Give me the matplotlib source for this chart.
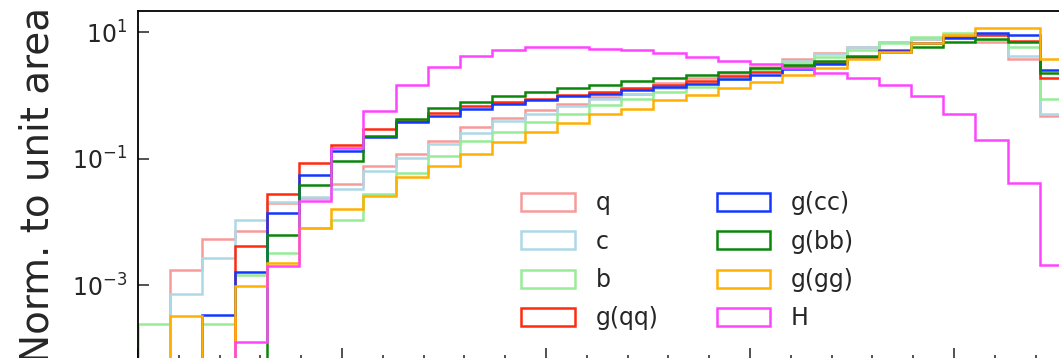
import numpy as np
import matplotlib
matplotlib.use("Agg")
import matplotlib.pyplot as plt

# 38 bins over 0-300, only the first 29 are filled here
edges = np.linspace(0, 300, 39)[:30]
centers = 0.5 * (edges[:-1] + edges[1:])

# log10 of the unit-area density per bin (None = empty bin)
q_log = [None, -2.76, -2.26, -2.14, -1.70, -1.62, -1.40, -1.12, -0.92, -0.72,
         -0.50, -0.36, -0.23, -0.13, -0.03, 0.03, 0.20, 0.27, 0.35, 0.45,
         0.57, 0.67, 0.76, 0.85, 0.885, 0.93, 0.85, 0.57, -0.33]
c_log = [None, -3.13, -2.56, -1.97, -1.69, -1.60, -1.47, -1.20, -0.99, -0.77,
         -0.60, -0.41, -0.30, -0.17, -0.06, 0.02, 0.12, 0.20, 0.30, 0.42,
         0.54, 0.66, 0.76, 0.85, 0.885, 0.93, 0.87, 0.62, -0.29]
b_log = [-3.61, None, -3.61, -2.84, -2.49, -2.10, -1.96, -1.55, -1.23, -0.95,
         -0.72, -0.58, -0.42, -0.29, -0.15, -0.05, 0.05, 0.14, 0.26, 0.40,
         0.51, 0.61, 0.71, 0.82, 0.92, 0.99, 0.88, 0.76, -0.06]
gqq_log = [None, None, None, -2.37, -1.55, -1.07, -0.79, -0.53, -0.40, -0.27,
           -0.16, -0.11, -0.05, 0.01, 0.06, 0.11, 0.16, 0.23, 0.31, 0.37,
           0.45, 0.51, 0.61, 0.72, 0.83, 0.92, 0.95, 0.86, 0.27]
gcc_log = [None, None, -3.47, -2.79, -1.86, -1.26, -0.88, -0.66, -0.42, -0.33,
           -0.22, -0.13, -0.08, -0.01, 0.02, 0.08, 0.14, 0.18, 0.26, 0.33,
           0.41, 0.49, 0.60, 0.70, 0.82, 0.90, 0.98, 0.95, 0.40]
gbb_log = [None, None, None, None, -2.21, -1.41, -1.03, -0.64, -0.38, -0.20,
           -0.11, -0.01, 0.06, 0.12, 0.16, 0.22, 0.27, 0.32, 0.37, 0.43,
           0.48, 0.54, 0.62, 0.68, 0.77, 0.84, 0.885, 0.84, 0.35]
ggg_log = [None, -3.48, None, -3.01, -2.64, -2.10, -1.79, -1.59, -1.29, -1.12,
           -0.92, -0.74, -0.57, -0.44, -0.29, -0.21, -0.08, 0.00, 0.12, 0.21,
           0.32, 0.43, 0.57, 0.68, 0.82, 0.96, 1.06, 1.06, 0.58]
h_log = [None, None, None, -3.90, -2.69, -1.66, -0.83, -0.25, 0.17, 0.45,
         0.62, 0.71, 0.76, 0.77, 0.74, 0.71, 0.67, 0.61, 0.55, 0.49,
         0.43, 0.36, 0.28, 0.16, -0.01, -0.29, -0.71, -1.39, -2.68]

labels = ["q", "c", "b", "g(qq)", "g(cc)", "g(bb)", "g(gg)", "H"]
series = [q_log, c_log, b_log, gqq_log, gcc_log, gbb_log, ggg_log, h_log]
colors = ["#F79A9A", "#ADD8E6", "#97EC97", "#FF2B0F",
          "#1238FF", "#0A870A", "#FFB000", "#FF44FF"]


def to_weights(logs):
    return np.array([0.0 if v is None else 10.0 ** v for v in logs])


W, H = 1059, 358
fig = plt.figure(figsize=(W / 100, H / 100), dpi=100)

px_per_unit = 204 / 50.0
x0, y_top, y_bot = 138, 11, 359
ax = fig.add_axes([x0 / W, 1 - y_bot / H, 300 * px_per_unit / W, (y_bot - y_top) / H])

for logs, lab, col in zip(series, labels, colors):
    ax.hist(centers, bins=edges, weights=to_weights(logs), histtype="step",
            log=True, color=col, lw=1.8, label=lab)

ax.set_xlim(0, 300)
ax.set_ylim(6.9e-5, 21.5)
ax.set_yticks([1e-3, 1e-1, 1e1])
ax.yaxis.set_minor_locator(matplotlib.ticker.NullLocator())
ax.set_xticks(np.arange(0, 301, 50))
ax.set_xticks(np.arange(0, 301, 10), minor=True)
ax.tick_params(which="both", direction="in", width=1.1, colors="#222222",
               labelsize=17, labelcolor="#262626")
ax.tick_params(which="major", length=8, pad=8)
ax.tick_params(which="minor", length=3.2)
ax.tick_params(axis="x", labelbottom=False)
for s in ax.spines.values():
    s.set_linewidth(1.3)
    s.set_color("black")

ax.set_ylabel("Norm. to unit area", fontsize=28, color="#262626", labelpad=11)

ax.legend(loc="upper left", bbox_to_anchor=(512 / W, 1 - 182 / H),
          bbox_transform=fig.transFigure, ncol=2, frameon=False, fontsize=17,
          handlelength=2.25, handleheight=0.8, handletextpad=0.9,
          columnspacing=2.45, labelspacing=0.6, borderaxespad=0,
          labelcolor="#262626")

fig.savefig("out.png", dpi=100)
